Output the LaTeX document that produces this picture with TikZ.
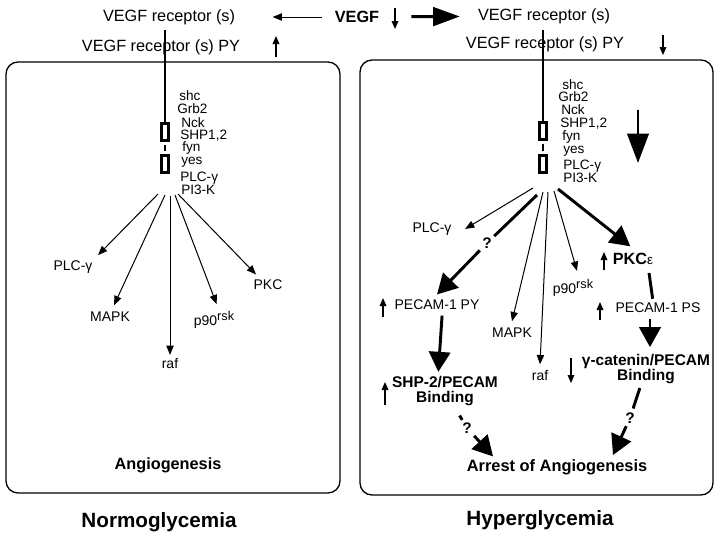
\documentclass[tikz,border=0pt]{standalone}
\usepackage{fontspec}
\setmainfont{Liberation Sans}
\usetikzlibrary{arrows.meta}
\begin{document}
\begin{tikzpicture}[x=0.75pt,y=-0.75pt,
 lbl/.style={inner sep=1pt,font=\fontsize{12.2}{14}\selectfont},
 lst/.style={inner sep=0pt,anchor=west,font=\fontsize{10.2}{12}\selectfont},
 sml/.style={inner sep=1pt,font=\fontsize{10.5}{12}\selectfont},
 bld/.style={inner sep=1pt,align=center,font=\bfseries\fontsize{11.6}{11.5}\selectfont},
 ttl/.style={inner sep=1pt,font=\bfseries\fontsize{15.5}{18}\selectfont},
 qm/.style={inner sep=1pt,font=\bfseries\fontsize{11.5}{13}\selectfont},
 panel/.style={draw,line width=1pt,rounded corners=9pt},
 tarr/.style={line width=0.75pt,-{Triangle[length=7pt,width=5.5pt]}},
 barr/.style={line width=2.2pt,-{Triangle[length=15pt,width=16pt]}},
 tline/.style={line width=2.2pt},
 ind/.style={line width=0.9pt,-{Triangle[length=6pt,width=5pt]}},
 recbox/.style={draw,line width=2pt,minimum width=5.5pt,minimum height=12.5pt,inner sep=0pt}
]
\useasboundingbox (0,0) rectangle (720,537);

% panels
\draw[panel] (6,62) rectangle (340,493);
\draw[panel] (360,60) rectangle (713,495);

% top labels
\node[lbl] (vrL) at (169,17) {VEGF receptor (s)};
\node[lbl] (vrpyL) at (161,47) {VEGF receptor (s) PY};
\node[lbl,font=\bfseries\fontsize{12.2}{14}\selectfont] (vegf) at (357,17) {VEGF};
\node[lbl] (vrR) at (544,16) {VEGF receptor (s)};
\node[lbl] (vrpyR) at (545,44) {VEGF receptor (s) PY};

\draw[tarr,shorten <=8.8pt,shorten >=27pt] (vegf) -- (vrL);
\draw[line width=2.2pt,-{Triangle[length=20pt,width=14pt]},shorten <=23pt,shorten >=12.5pt] (vegf) -- (vrR);

\draw[ind] (276,57) -- (276,36);
\draw[ind] (395,8) -- (395,29);
\draw[ind] (663,35) -- (663,55);

% left receptor
\node[recbox] (b1L) at (165,132) {};
\node[recbox] (b2L) at (165,164) {};
\coordinate (topL) at (165,30);
\draw[line width=1.9pt] (b1L.north) -- (topL);
\draw[tline,shorten <=2.2pt,shorten >=2.2pt] (b1L.south) -- (b2L.north);

\node[lst] (shcL) at (179,96) {shc};
\node[lst] (grbL) at (177,109) {Grb2};
\node[lst] (nckL) at (181,123) {Nck};
\node[lst] (shpL) at (180,136) {SHP1,2};
\node[lst] (fynL) at (182,148) {fyn};
\node[lst] (yesL) at (181,162) {yes};
\node[lst] (plcgL) at (180,178) {PLC-γ};
\node[lst] (pi3L) at (181,190) {PI3-K};

% left fan
\coordinate (sL1) at (158,194);
\coordinate (sL2) at (165,195);
\coordinate (sL3) at (170,196);
\coordinate (sL4) at (175,195);
\coordinate (sL5) at (178,194);
\node[sml] (plcL) at (73,267) {PLC-γ};
\node[sml] (mapkL) at (110,317) {MAPK};
\node[sml] (rafL) at (170,363) {raf};
\node[sml] (p90L) at (214,320) {p90\raisebox{0.4em}{\fontsize{9.5}{10}\selectfont rsk}};
\node[sml] (pkcL) at (268,285) {PKC};
\draw[tarr] (sL1) -- ([xshift=3pt,yshift=3pt]plcL.north east);
\draw[tarr] (sL2) -- ([xshift=3pt,yshift=4pt]mapkL.north);
\draw[tarr] (sL3) -- ([yshift=1pt]rafL.north);
\draw[tarr] (sL4) -- ([xshift=2pt,yshift=4pt]p90L.north);
\draw[tarr] (sL5) -- ([xshift=3pt,yshift=3pt]pkcL.north west);

\node[bld,font=\bfseries\fontsize{12.2}{14}\selectfont] (angio) at (168,465) {Angiogenesis};
\node[ttl] (normo) at (159,522) {Normoglycemia};

% right receptor
\node[recbox] (b1R) at (543,131) {};
\node[recbox] (b2R) at (543,164) {};
\coordinate (topR) at (543,30);
\draw[line width=1.9pt] (b1R.north) -- (topR);
\draw[tline,shorten <=2.2pt,shorten >=2.2pt] (b1R.south) -- (b2R.north);

\node[lst] (shcR) at (562,85) {shc};
\node[lst] (grbR) at (558,97) {Grb2};
\node[lst] (nckR) at (561,110) {Nck};
\node[lst] (shpR) at (560,124) {SHP1,2};
\node[lst] (fynR) at (562,137) {fyn};
\node[lst] (yesR) at (563,151) {yes};
\node[lst] (plcgR) at (563,166) {PLC-γ};
\node[lst] (pi3R) at (563,178) {PI3-K};

\draw[line width=2.2pt,-{Triangle[length=22pt,width=16pt]}] (638,110) -- (638,163);

% right fan
\coordinate (sR1) at (533,188);
\coordinate (sR2) at (537,195);
\coordinate (sR3) at (543,192);
\coordinate (sR4) at (548,192);
\coordinate (sR5) at (554,191);
\coordinate (sR6) at (558,189);

\node[sml] (plcR) at (432,229) {PLC-γ};
\node[qm] (q1) at (487,243) {?};
\node[sml] (pyR) at (437,305) {PECAM-1 PY};
\node[sml] (mapkR) at (512,333) {MAPK};
\node[sml] (rafR) at (540,375) {raf};
\node[sml] (p90R) at (573,288) {p90\raisebox{0.4em}{\fontsize{9.5}{10}\selectfont rsk}};
\node[bld,font=\bfseries\fontsize{12.2}{14}\selectfont] (pkcE) at (633,259) {PKC{\mdseries\fontsize{10}{12}\selectfont ε}};
\node[sml] (psR) at (658,308) {PECAM-1 PS};
\node[bld] (cat) at (646,369) {γ-catenin/PECAM\\Binding};
\node[bld] (shp) at (445,391) {SHP-2/PECAM\\Binding};
\node[qm] (q2) at (467,428) {?};
\node[qm] (q3) at (630,418) {?};
\node[bld,font=\bfseries\fontsize{12.3}{14}\selectfont] (arrest) at (557,467) {Arrest of Angiogenesis};
\node[ttl] (hyper) at (540,520) {Hyperglycemia};

\draw[tarr] (sR1) -- ([xshift=9pt]plcR.east);
\draw[tline,shorten >=1pt] (sR2) -- (q1);
\draw[barr,shorten <=1pt] (q1) -- ([yshift=3pt]pyR.north);
\draw[tarr] (sR3) -- ([yshift=4pt]mapkR.north);
\draw[tarr] (sR4) -- ([yshift=3pt]rafR.north);
\draw[tarr] (sR5) -- ([xshift=3pt,yshift=5pt]p90R.north);
\draw[barr] (sR6) -- ([xshift=-2pt,yshift=4pt]pkcE.north);
\draw[tline,shorten <=5pt] ([xshift=-5pt]pkcE.south east) -- ([xshift=-4pt,yshift=2pt]psR.north);
\draw[barr,shorten <=3pt] ([xshift=-6pt]psR.south) -- ([xshift=3pt,yshift=4pt]cat.north);
\draw[barr,shorten <=3pt] ([xshift=4pt]pyR.south) -- ([xshift=-5pt,yshift=2pt]shp.north);
\draw[tline,shorten <=7pt,shorten >=1pt] (shp) -- (q2);
\draw[barr,shorten <=1pt] (q2) -- ([xshift=-48pt,yshift=1pt]arrest.north);
\draw[tline,shorten <=2pt,shorten >=2pt] ([xshift=-4pt]cat.south) -- (q3);
\draw[barr,shorten <=1pt] (q3) -- ([xshift=42pt,yshift=2pt]arrest.north);

\draw[ind] (383,317) -- (383,298);
\draw[ind] (604,270) -- (604,252);
\draw[ind] (600,320) -- (600,302);
\draw[ind] (571,358) -- (571,383);
\draw[ind] (385,405) -- (385,382);
\end{tikzpicture}
\end{document}
